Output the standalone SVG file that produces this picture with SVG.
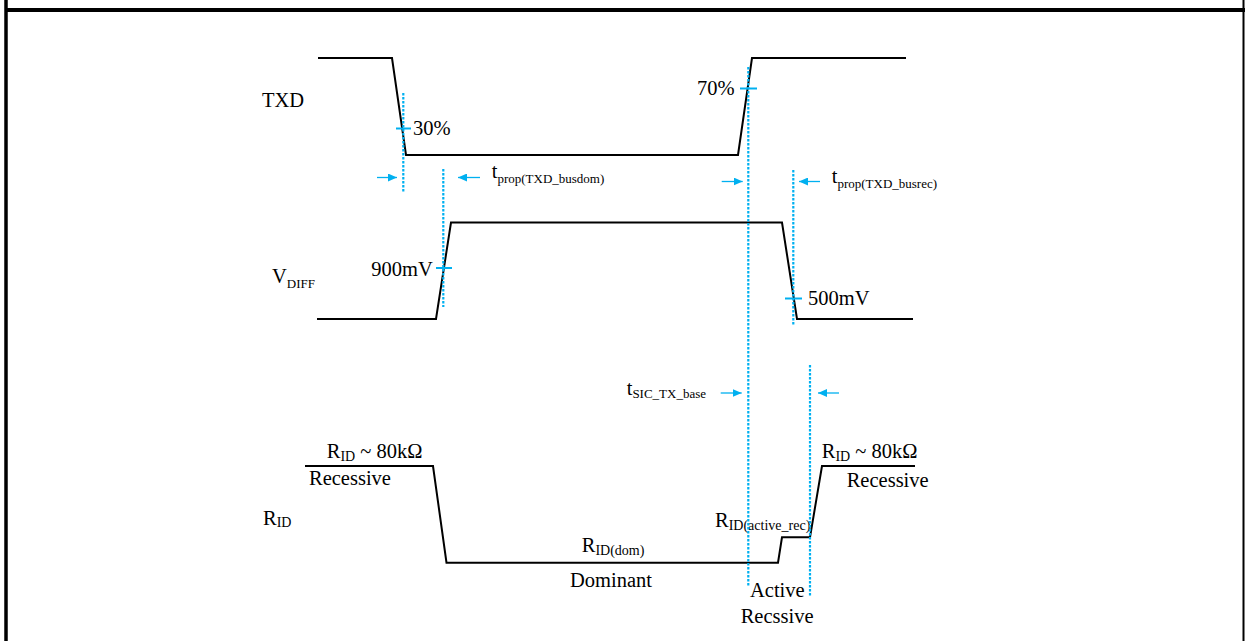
<svg xmlns="http://www.w3.org/2000/svg" width="1245" height="641" viewBox="0 0 1245 641">
<style>
.bd{stroke:#000;fill:none}
.w{stroke:#000;stroke-width:2;fill:none;stroke-linejoin:miter}
.dot{stroke:#00B0F0;stroke-width:2.2;stroke-dasharray:2.5 1.5;fill:none}
.tk{stroke:#00B0F0;stroke-width:2;fill:none}
.ar{stroke:#00B0F0;stroke-width:1.3;fill:none;marker-end:url(#ah)}
text{font-family:"Liberation Serif","Times New Roman",serif;font-size:20.5px;fill:#000}
.s{font-size:13px}
.s2{font-size:14px}
</style>
<defs>
<marker id="ah" markerUnits="userSpaceOnUse" markerWidth="10" markerHeight="8" refX="9" refY="4" orient="auto">
<path d="M0,0 L9,4 L0,8 Z" fill="#00B0F0"/>
</marker>
</defs>
<g id="frame">
<line class="bd" x1="6" y1="0" x2="6" y2="641" stroke-width="3.5"/>
<line class="bd" x1="1243.5" y1="0" x2="1243.5" y2="641" stroke-width="2"/>
<line class="bd" x1="6" y1="10" x2="1245" y2="10" stroke-width="4"/>
</g>
<g id="txd">
<polyline class="w" points="318,58 392,58 406,155 738,155 752,58 906,58"/>
<text x="262" y="107">TXD</text>
<line class="tk" x1="396" y1="128.5" x2="411" y2="128.5"/>
<text x="413" y="135">30%</text>
<line class="tk" x1="740" y1="88.5" x2="757" y2="88.5"/>
<text x="697" y="95">70%</text>
</g>
<g id="vdiff">
<polyline class="w" points="317,319 436,319 451,222.5 782,222.5 797,319 913,319"/>
<text x="272" y="283">V<tspan class="s" dy="5">DIFF</tspan></text>
<line class="tk" x1="436" y1="268" x2="452" y2="268"/>
<text x="432.7" y="276" text-anchor="end">900mV</text>
<line class="tk" x1="785" y1="298.5" x2="802" y2="298.5"/>
<text x="808" y="305">500mV</text>
</g>
<g id="rid">
<polyline class="w" points="305,466 433,466 446.5,562.7 778,562.7 782,537.3 810,537.3 822,466 915,466"/>
<text x="263" y="525">R<tspan class="s2" dy="2">ID</tspan></text>
<text x="326.7" y="457.5">R<tspan class="s2" dy="3">ID</tspan><tspan dy="-3"> ~ 80kΩ</tspan></text>
<text x="309" y="485">Recessive</text>
<text x="821.7" y="457.5">R<tspan class="s2" dy="3">ID</tspan><tspan dy="-3"> ~ 80kΩ</tspan></text>
<text x="846.7" y="487">Recessive</text>
<text x="581.7" y="551.7">R<tspan class="s2" dy="3">ID(dom)</tspan></text>
<text x="570" y="586.7">Dominant</text>
<text x="715" y="527">R<tspan class="s2" dy="3">ID(active_rec)</tspan></text>
<text x="750" y="597">Active</text>
<text x="740.7" y="623">Recssive</text>
</g>
<g id="timing-labels">
<text x="491.7" y="178">t<tspan class="s" dy="5">prop(TXD_busdom)</tspan></text>
<text x="831.7" y="183">t<tspan class="s" dy="5">prop(TXD_busrec)</tspan></text>
<text x="626.7" y="395">t<tspan class="s" dy="3">SIC_TX_base</tspan></text>
</g>
<g id="connectors">
<line class="dot" x1="403.3" y1="93" x2="403.3" y2="192"/>
<line class="dot" x1="443.3" y1="169" x2="443.3" y2="307"/>
<line class="dot" x1="748.3" y1="67" x2="748.3" y2="586"/>
<line class="dot" x1="793.3" y1="170" x2="793.3" y2="325"/>
<line class="dot" x1="810" y1="365" x2="810" y2="597"/>
<line class="ar" x1="377" y1="177.5" x2="397" y2="177.5"/>
<line class="ar" x1="480" y1="177.5" x2="458" y2="177.5"/>
<line class="ar" x1="721.7" y1="181.5" x2="742.7" y2="181.5"/>
<line class="ar" x1="820" y1="181.5" x2="799" y2="181.5"/>
<line class="ar" x1="720.7" y1="393" x2="741.7" y2="393"/>
<line class="ar" x1="839" y1="393" x2="818" y2="393"/>
</g>
</svg>
